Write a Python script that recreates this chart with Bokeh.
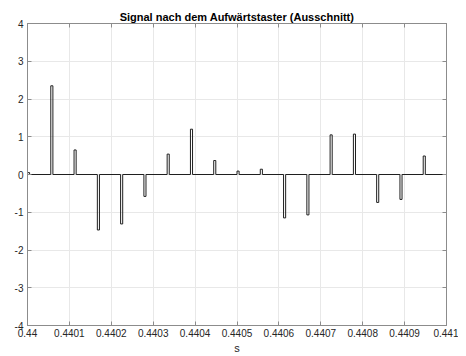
from bokeh.plotting import figure
from bokeh.models import LinearAxis, FixedTicker, CustomJSTickFormatter, Range1d, ColumnDataSource
from bokeh.embed import file_html
from bokeh.resources import INLINE

# Pulse start times (s) and amplitudes
pulse_t = [0.4400000, 0.4400556, 0.4401111, 0.4401667, 0.4402222, 0.4402778,
           0.4403333, 0.4403889, 0.4404444, 0.4405000, 0.4405556, 0.4406111,
           0.4406667, 0.4407222, 0.4407778, 0.4408333, 0.4408889, 0.4409444,
           0.4410000]
pulse_a = [0.05, 2.35, 0.65, -1.47, -1.31, -0.58, 0.54, 1.20, 0.37, 0.09,
           0.14, -1.15, -1.07, 1.05, 1.07, -0.74, -0.66, 0.49, 0.50]
pulse_w = 5e-6

x_ticks = [0.44, 0.4401, 0.4402, 0.4403, 0.4404, 0.4405, 0.4406, 0.4407, 0.4408, 0.4409, 0.441]
y_ticks = [-4, -3, -2, -1, 0, 1, 2, 3, 4]

xs, ys = [], []
for t, a in zip(pulse_t, pulse_a):
    xs += [t, t + pulse_w]
    ys += [a, 0.0]

src = ColumnDataSource(dict(x=xs, y=ys))

FONT = "Liberation Sans"
AX = "#8c8c8c"
TXT = "#262626"

p = figure(width=458, height=356, output_backend="svg", toolbar_location=None,
           x_range=Range1d(0.44, 0.441), y_range=Range1d(-4, 4),
           min_border_left=27, min_border_right=12, min_border_top=23, min_border_bottom=31)

p.title.text = "Signal nach dem Aufwärtstaster (Ausschnitt)"
p.title.align = "center"
p.title.text_font = FONT
p.title.text_font_size = "11px"
p.title.text_font_style = "bold"
p.title.text_color = "#000000"
p.title.offset = 0
p.title.standoff = 1

p.step("x", "y", source=src, mode="after", line_color="#1f1f1f", line_width=1)

xfmt = CustomJSTickFormatter(code="return parseFloat(tick.toFixed(4)).toString();")
yfmt = CustomJSTickFormatter(code="return tick.toFixed(0);")
blank = CustomJSTickFormatter(code="return '';")

def style(ax):
    ax.axis_line_color = AX
    ax.major_tick_line_color = AX
    ax.minor_tick_line_color = None
    ax.major_tick_in = 4
    ax.major_tick_out = 0
    ax.major_label_text_font = FONT
    ax.major_label_text_font_size = "10px"
    ax.major_label_text_color = TXT

xa = p.xaxis[0]
xa.ticker = FixedTicker(ticks=x_ticks)
xa.formatter = xfmt
xa.axis_label = "s"
xa.axis_label_text_font = FONT
xa.axis_label_text_font_size = "11px"
xa.axis_label_text_font_style = "normal"
xa.axis_label_text_color = TXT
xa.axis_label_standoff = 2
xa.major_label_standoff = 3
style(xa)

ya = p.yaxis[0]
ya.ticker = FixedTicker(ticks=y_ticks)
ya.formatter = yfmt
ya.major_label_standoff = 4
style(ya)

top = LinearAxis(ticker=FixedTicker(ticks=x_ticks), formatter=blank)
style(top)
top.major_label_standoff = 0
p.add_layout(top, "above")
right = LinearAxis(ticker=FixedTicker(ticks=y_ticks), formatter=blank)
style(right)
right.major_label_standoff = 0
p.add_layout(right, "right")

p.xgrid.ticker = FixedTicker(ticks=x_ticks)
p.ygrid.ticker = FixedTicker(ticks=y_ticks)
p.grid.grid_line_color = "#e8e8e8"
p.grid.grid_line_width = 1
p.outline_line_color = AX
p.background_fill_color = "white"
p.border_fill_color = "white"

open("out.html", "w").write(file_html(p, INLINE))
